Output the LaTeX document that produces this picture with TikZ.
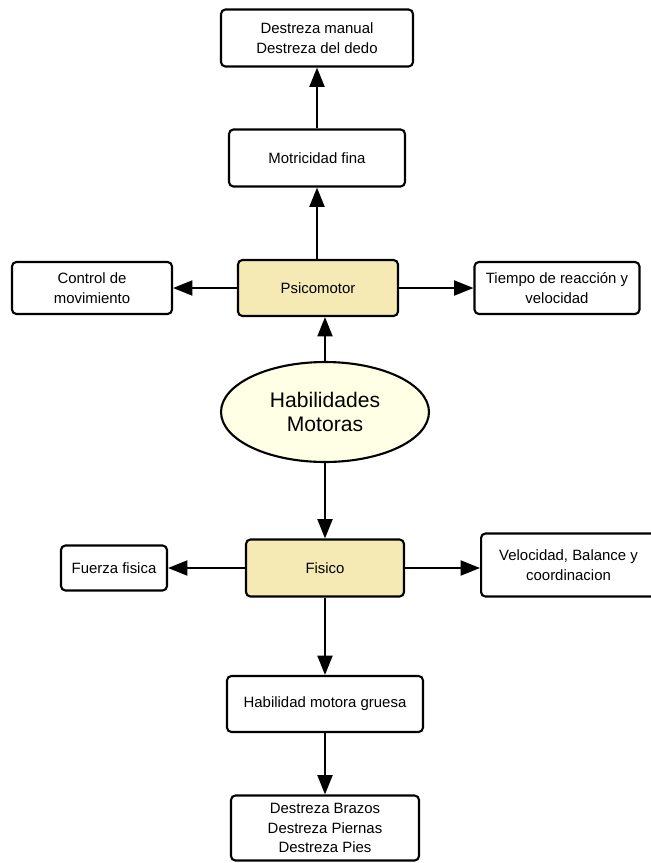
\documentclass[tikz,border=0pt]{standalone}
\usepackage{fontspec}
\setmainfont{Liberation Sans}
\usepackage{tikz}
\usetikzlibrary{arrows.meta,positioning,shapes.geometric}
\definecolor{khaki}{RGB}{245,233,180}
\definecolor{cream}{RGB}{255,255,230}
\tikzset{font=\fontsize{8.5}{11}\selectfont}
\tikzstyle{box}=[draw,rounded corners=2.5pt,line width=1.2pt,fill=white,align=center,inner sep=2pt]
\tikzstyle{main}=[box,fill=khaki]
\tikzstyle{oval}=[ellipse,draw,line width=1.2pt,fill=cream,align=center,inner sep=0pt,font=\fontsize{12}{14}\selectfont]
\tikzset{every picture/.style={line width=1.2pt}}

\begin{document}
\begin{tikzpicture}[x=0.02cm,y=-0.02cm]
\useasboundingbox (0,0) rectangle (650,863);
\node[box,minimum width=3.84cm,minimum height=1.14cm] (A) at (317,38) {Destreza manual\\Destreza del dedo};
\node[box,minimum width=3.52cm,minimum height=1.14cm] (B) at (317,158) {Motricidad fina};
\node[main,minimum width=3.2cm,minimum height=1.12cm] (P) at (318,288) {Psicomotor};
\node[box,minimum width=3.2cm,minimum height=1.04cm] (C) at (92,288) {Control de\\movimiento};
\node[box,minimum width=3.3cm,minimum height=1.04cm] (T) at (557,288) {Tiempo de reacción y\\velocidad};
\node[oval,minimum width=4.16cm,minimum height=2cm] (H) at (325,412) {Habilidades\\Motoras};
\node[main,minimum width=3.16cm,minimum height=1.14cm] (F) at (325,568) {Fisico};
\node[box,minimum width=2.12cm,minimum height=0.9cm] (G) at (114,568) {Fuerza fisica};
\node[box,minimum width=3.5cm,minimum height=1.26cm,anchor=west] (V) at (480,565) {Velocidad, Balance y\\coordinacion};
\node[box,minimum width=3.92cm,minimum height=1.12cm] (M) at (325,704) {Habilidad motora gruesa};
\node[box,minimum width=3.76cm,minimum height=1.3cm] (D) at (325,828) {Destreza Brazos\\Destreza Piernas\\Destreza Pies};
\path[-{Triangle[length=11pt,width=8.5pt]}]
(B) edge (A)
(P.north -| B) edge (B)
(P) edge (C)
(P) edge (T)
(H) edge (H |- P.south)
(H) edge (F)
(F) edge (G)
(F) edge (F -| V.west)
(F) edge (M)
(M) edge (D);
\end{tikzpicture}
\end{document}
